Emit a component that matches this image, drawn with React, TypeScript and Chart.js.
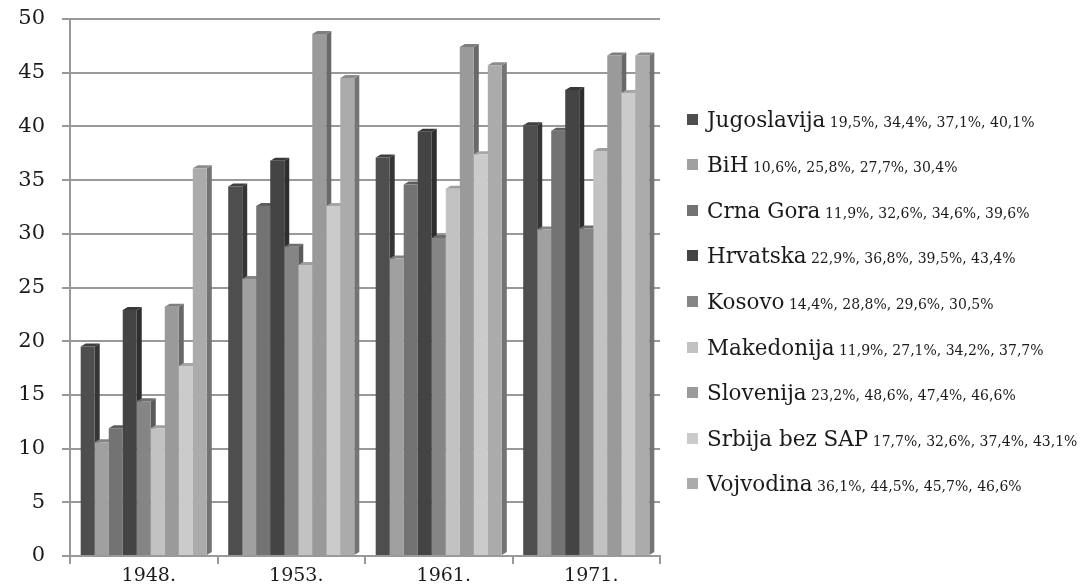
import React, { useEffect, useRef } from "react";
import { Chart, registerables } from "chart.js";

Chart.register(...registerables);

const years = ["1948.", "1953.", "1961.", "1971."];
const seriesNames = [
  "Jugoslavija",
  "BiH",
  "Crna Gora",
  "Hrvatska",
  "Kosovo",
  "Makedonija",
  "Slovenija",
  "Srbija bez SAP",
  "Vojvodina",
];
const jugoslavija = [19.5, 34.4, 37.1, 40.1];
const bih = [10.6, 25.8, 27.7, 30.4];
const crnaGora = [11.9, 32.6, 34.6, 39.6];
const hrvatska = [22.9, 36.8, 39.5, 43.4];
const kosovo = [14.4, 28.8, 29.6, 30.5];
const makedonija = [11.9, 27.1, 34.2, 37.7];
const slovenija = [23.2, 48.6, 47.4, 46.6];
const srbijaBezSap = [17.7, 32.6, 37.4, 43.1];
const vojvodina = [36.1, 44.5, 45.7, 46.6];
const seriesValues = [jugoslavija, bih, crnaGora, hrvatska, kosovo, makedonija, slovenija, srbijaBezSap, vojvodina];
const seriesColors = ["#4e4e4e", "#a0a0a0", "#737373", "#444444", "#858585", "#c2c2c2", "#9a9a9a", "#cbcbcb", "#ababab"];
const yMin = 0;
const yMax = 50;
const yStep = 5;

const FONT = "'DejaVu Serif', serif";

function shade(hex: string, f: number): string {
  const n = parseInt(hex.slice(1), 16);
  const r = Math.round(((n >> 16) & 255) * f);
  const g = Math.round(((n >> 8) & 255) * f);
  const b = Math.round((n & 255) * f);
  return `rgb(${r},${g},${b})`;
}

function fmt(v: number): string {
  return v.toFixed(1).replace(".", ",") + "%";
}

const DX = 5;
const DY = 3;

const bar3d = {
  id: "bar3d",
  beforeDatasetsDraw(chart: any) {
    const ctx = chart.ctx;
    chart.data.datasets.forEach((ds: any, i: number) => {
      const meta = chart.getDatasetMeta(i);
      const base = seriesColors[i];
      meta.data.forEach((bar: any) => {
        const { x, y, width, base: b } = bar.getProps(["x", "y", "width", "base"], true);
        const left = x - width / 2;
        const right = x + width / 2;
        ctx.save();
        ctx.fillStyle = shade(base, 0.68);
        ctx.beginPath();
        ctx.moveTo(right, y);
        ctx.lineTo(right + DX, y - DY);
        ctx.lineTo(right + DX, b - DY);
        ctx.lineTo(right, b);
        ctx.closePath();
        ctx.fill();
        ctx.fillStyle = shade(base, 0.82);
        ctx.beginPath();
        ctx.moveTo(left, y);
        ctx.lineTo(left + DX, y - DY);
        ctx.lineTo(right + DX, y - DY);
        ctx.lineTo(right, y);
        ctx.closePath();
        ctx.fill();
        ctx.restore();
      });
    });
  },
};

export default function App() {
  const ref = useRef<HTMLCanvasElement>(null);

  useEffect(() => {
    document.body.style.margin = "0";
    const chart = new Chart(ref.current!, {
      type: "bar",
      data: {
        labels: years,
        datasets: seriesNames.map((name, i) => ({
          label: name,
          data: seriesValues[i],
          backgroundColor: seriesColors[i],
          borderWidth: 0,
          barPercentage: 1,
          categoryPercentage: 0.855,
        })),
      },
      options: {
        animation: false,
        responsive: false,
        devicePixelRatio: 1,
        layout: { padding: { left: 0, right: 421, top: 19, bottom: 0 } },
        plugins: {
          legend: { display: false },
          tooltip: { enabled: false },
        },
        scales: {
          x: {
            afterFit: (s: any) => {
              s.height = 30;
              s.paddingLeft = 0;
              s.paddingRight = 0;
            },
            grid: { display: true, drawOnChartArea: false, drawTicks: true, tickLength: 8, color: "#999", lineWidth: 2 },
            border: { display: true, color: "#999", width: 2 },
            ticks: { font: { family: FONT, size: 19 }, color: "#1a1a1a", padding: 1, labelOffset: 5 },
          },
          y: {
            min: yMin,
            max: yMax,
            afterFit: (s: any) => {
              s.width = 70;
              s.paddingTop = 0;
              s.paddingBottom = 0;
            },
            grid: { color: "#999", lineWidth: 2, tickLength: 8 },
            border: { display: true, color: "#999", width: 2 },
            ticks: { stepSize: yStep, font: { family: FONT, size: 21 }, color: "#1a1a1a", padding: 17 },
          },
        },
      },
      plugins: [bar3d],
    });
    return () => chart.destroy();
  }, []);

  return (
    <div style={{ position: "relative", width: 1081, height: 586, background: "#fff" }}>
      <canvas ref={ref} width={1081} height={586} style={{ display: "block" }} />
      {seriesNames.map((name, i) => (
        <div
          key={name}
          style={{
            position: "absolute",
            left: 687,
            top: 119 + 45.6 * i - 15,
            height: 30,
            display: "flex",
            alignItems: "center",
            whiteSpace: "nowrap",
            fontFamily: FONT,
            color: "#1a1a1a",
          }}
        >
          <span style={{ display: "inline-block", width: 11, height: 11, background: seriesColors[i], marginRight: 9 }} />
          <span>
            <span style={{ fontSize: 21.5 }}>{name}</span>
            <span style={{ fontSize: 14 }}>{" " + seriesValues[i].map(fmt).join(", ")}</span>
          </span>
        </div>
      ))}
    </div>
  );
}
